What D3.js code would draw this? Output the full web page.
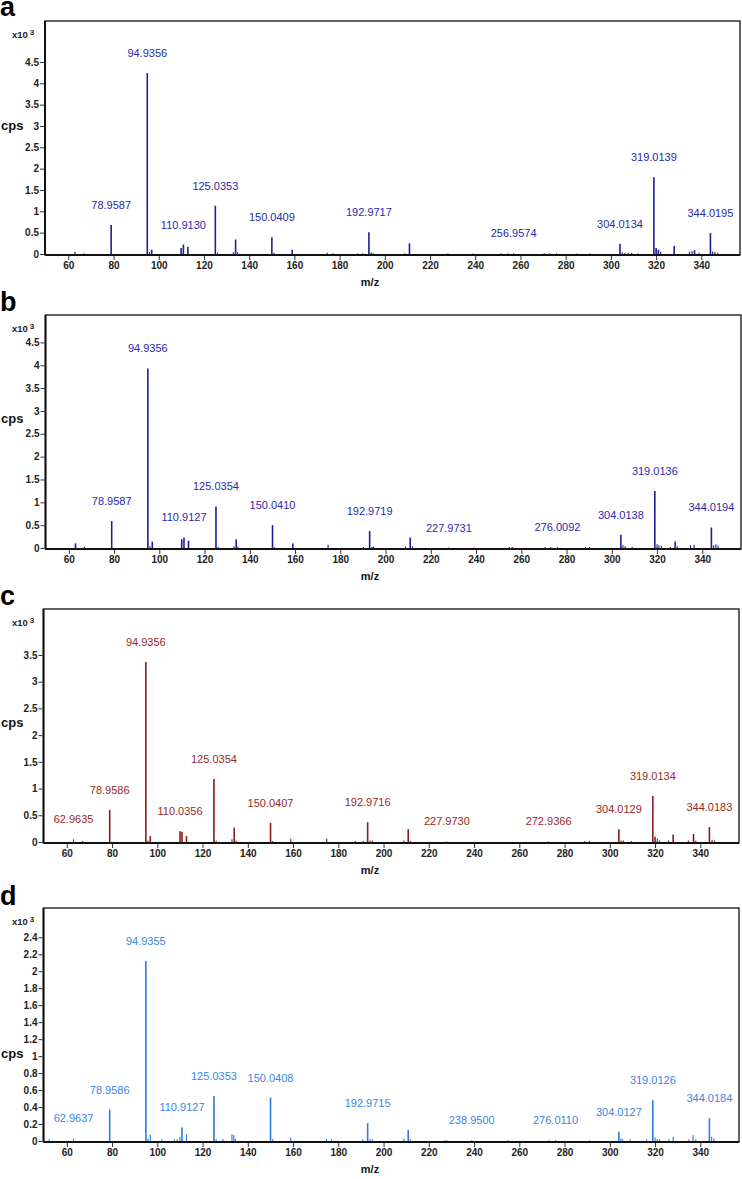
<!DOCTYPE html>
<html><head><meta charset="utf-8">
<script src="https://cdn.jsdelivr.net/npm/d3@7"></script>
<style>
body{margin:0;background:#fff;}
svg{display:block;font-family:"Liberation Sans",Arial,sans-serif;}
</style></head><body>
<svg id="chart" width="742" height="1179"></svg>
<script>
// ---------- data ----------
const panelLetters = ["a", "b", "c", "d"];
const xTicks = [60, 80, 100, 120, 140, 160, 180, 200, 220, 240, 260, 280, 300, 320, 340];
const yTicksA = [0, 0.5, 1, 1.5, 2, 2.5, 3, 3.5, 4, 4.5];
const yTicksB = [0, 0.5, 1, 1.5, 2, 2.5, 3, 3.5, 4, 4.5];
const yTicksC = [0, 0.5, 1, 1.5, 2, 2.5, 3, 3.5];
const yTicksD = [0, 0.2, 0.4, 0.6, 0.8, 1, 1.2, 1.4, 1.6, 1.8, 2, 2.2, 2.4];

// m/z and intensity (x10^3 cps)
const mzA  = [62.96,66.9,78.96,94.94,95.9,96.9,109.9,110.91,112.9,125.04,126.0,133.0,134.0,134.9,150.04,151.0,159.0,174.5,177.0,188.0,190.2,192.97,194.0,194.9,208.8,210.9,227.9,239.0,251.5,254.5,256.96,270.5,273.0,276.0,285.0,290.6,304.01,305.0,306.2,307.6,309.2,312.0,319.01,320.0,321.0,322.0,328.0,334.7,335.9,337.0,339.0,344.02,345.0,346.0,347.2];
const intA = [0.05,0.02,0.68,4.24,0.05,0.10,0.14,0.22,0.17,1.13,0.03,0.04,0.34,0.04,0.39,0.03,0.10,0.03,0.02,0.02,0.02,0.51,0.04,0.02,0.02,0.25,0.01,0.01,0.02,0.02,0.02,0.02,0.02,0.02,0.01,0.01,0.24,0.04,0.03,0.03,0.03,0.02,1.80,0.14,0.10,0.05,0.19,0.05,0.07,0.09,0.03,0.49,0.06,0.05,0.03];
const labelsA = ["78.9587","94.9356","110.9130","125.0353","150.0409","192.9717","256.9574","304.0134","319.0139","344.0195"];

const mzB  = [62.96,66.9,78.96,94.94,95.9,96.9,109.9,110.91,112.9,125.04,126.0,133.0,134.0,134.7,150.04,151.0,159.0,174.6,190.2,192.97,194.0,194.7,208.8,210.9,211.8,227.97,239.0,254.7,256.0,270.5,273.0,276.01,288.4,290.2,304.01,304.9,305.9,309.0,319.01,320.0,320.8,321.9,325.9,328.0,328.9,334.8,336.4,344.02,345.0,346.0,347.0];
const intB = [0.10,0.03,0.59,3.93,0.04,0.14,0.19,0.23,0.16,0.91,0.03,0.04,0.19,0.03,0.50,0.02,0.10,0.07,0.02,0.37,0.03,0.03,0.03,0.23,0.04,0.01,0.01,0.02,0.02,0.02,0.02,0.02,0.02,0.02,0.29,0.06,0.04,0.02,1.25,0.08,0.06,0.05,0.02,0.14,0.04,0.06,0.07,0.45,0.06,0.08,0.05];
const labelsB = ["78.9587","94.9356","110.9127","125.0354","150.0410","192.9719","227.9731","276.0092","304.0138","319.0136","344.0194"];

const mzC  = [62.96,67.0,78.96,94.94,95.9,96.9,110.04,110.9,112.9,125.04,126.0,133.0,134.0,134.8,150.04,151.0,159.0,174.9,187.5,191.0,192.97,194.0,195.0,209.0,210.9,211.8,227.97,272.94,289.0,291.0,304.01,305.0,306.0,309.5,319.01,320.0,321.0,322.0,326.0,328.0,334.7,337.0,338.0,344.02,345.2,346.3];
const intC = [0.05,0.02,0.60,3.37,0.03,0.11,0.20,0.19,0.11,1.18,0.03,0.05,0.27,0.03,0.36,0.02,0.06,0.06,0.02,0.02,0.37,0.03,0.03,0.03,0.24,0.02,0.01,0.01,0.02,0.02,0.24,0.03,0.03,0.02,0.86,0.10,0.06,0.03,0.03,0.14,0.03,0.15,0.03,0.28,0.04,0.03];
const labelsC = ["62.9635","78.9586","94.9356","110.0356","125.0354","150.0407","192.9716","227.9730","272.9366","304.0129","319.0134","344.0183"];

const mzD  = [52.2,62.96,78.96,94.94,95.9,96.9,102.0,107.5,108.8,110.0,110.91,112.9,125.04,126.0,129.0,133.0,133.8,134.5,150.04,151.0,159.0,174.8,177.0,190.8,192.97,194.0,195.0,209.0,210.9,211.8,227.0,228.0,238.95,255.0,273.0,276.01,291.0,304.01,304.9,305.7,309.0,316.3,319.01,320.0,321.0,322.0,326.2,328.0,335.0,336.8,338.0,344.02,345.0,346.0];
const intD = [0.02,0.03,0.37,2.12,0.03,0.075,0.02,0.02,0.02,0.05,0.16,0.075,0.53,0.02,0.02,0.08,0.07,0.03,0.51,0.02,0.04,0.025,0.02,0.02,0.21,0.02,0.02,0.03,0.13,0.02,0.01,0.01,0.01,0.01,0.01,0.01,0.01,0.11,0.03,0.02,0.02,0.02,0.48,0.04,0.02,0.02,0.02,0.05,0.02,0.07,0.02,0.27,0.05,0.03];
const labelsD = ["62.9637","78.9586","94.9355","110.9127","125.0353","150.0408","192.9715","238.9500","276.0110","304.0127","319.0126","344.0184"];

// ---------- layout / style ----------
const panels = [
  {letter: panelLetters[0], mz: mzA, ints: intA, labels: labelsA, yTicks: yTicksA, yMax: 5.46, top: 21,  left: 45,   right: 740, bar: "#1c1c9e", text: "#2a2ab0", cpsY: 104, letterY: 16},
  {letter: panelLetters[1], mz: mzB, ints: intB, labels: labelsB, yTicks: yTicksB, yMax: 5.10, top: 315, left: 45.5, right: 741, bar: "#1c1c9e", text: "#2a2ab0", cpsY: 103, letterY: 311},
  {letter: panelLetters[2], mz: mzC, ints: intC, labels: labelsC, yTicks: yTicksC, yMax: 4.36, top: 609, left: 43.5, right: 739, bar: "#8a1c1c", text: "#992a2a", cpsY: 113, letterY: 605},
  {letter: panelLetters[3], mz: mzD, ints: intD, labels: labelsD, yTicks: yTicksD, yMax: 2.745, top: 908, left: 43.5, right: 739, bar: "#2b7de0", text: "#3a86e6", cpsY: 145, letterY: 905}
];
const plotH = 234;

const svg = d3.select("#chart");

panels.forEach(p => {
  const bottom = p.top + plotH;
  const x = d3.scaleLinear().domain([49.7, 357.1]).range([p.left, p.right]);
  const y = d3.scaleLinear().domain([0, p.yMax]).range([bottom - 1, p.top]);
  const g = svg.append("g");

  // panel letter
  g.append("text").attr("x", 0).attr("y", p.letterY)
    .attr("font-size", 27).attr("font-weight", "bold").attr("fill", "#000").text(p.letter);

  // frame
  g.append("rect").attr("x", p.left).attr("y", p.top)
    .attr("width", p.right - p.left).attr("height", plotH)
    .attr("fill", "none").attr("stroke", "#111").attr("stroke-width", 1.3);

  // bars
  const peaks = p.mz.map((m, i) => ({mz: m, v: p.ints[i]}));
  g.append("g").selectAll("line").data(peaks).join("line")
    .attr("x1", d => x(d.mz)).attr("x2", d => x(d.mz))
    .attr("y1", y(0)).attr("y2", d => y(d.v))
    .attr("stroke", p.bar).attr("stroke-width", d => d.v > 0.08 ? 1.6 : 1.1);

  // thick left & bottom axis lines
  g.append("line").attr("x1", p.left).attr("x2", p.right).attr("y1", bottom).attr("y2", bottom)
    .attr("stroke", "#111").attr("stroke-width", 2.2);
  g.append("line").attr("x1", p.left).attr("x2", p.left).attr("y1", p.top).attr("y2", bottom)
    .attr("stroke", "#111").attr("stroke-width", 2);

  // y axis
  const ya = g.append("g").attr("transform", `translate(${p.left - 1},0)`)
    .call(d3.axisLeft(y).tickValues(p.yTicks).tickSize(4).tickPadding(1)
      .tickFormat(d => String(+d.toFixed(1))));
  ya.select(".domain").remove();
  ya.selectAll("text").attr("font-size", 10).attr("font-weight", "bold")
    .attr("font-family", "Liberation Sans, Arial, sans-serif").attr("fill", "#222");
  ya.selectAll("line").attr("stroke", "#333");

  // x axis
  const xa = g.append("g").attr("transform", `translate(0,${bottom + 1})`)
    .call(d3.axisBottom(x).tickValues(xTicks).tickSize(4).tickPadding(2));
  xa.select(".domain").remove();
  xa.selectAll("text").attr("font-size", 10).attr("font-weight", "bold")
    .attr("font-family", "Liberation Sans, Arial, sans-serif").attr("fill", "#222");
  xa.selectAll("line").attr("stroke", "#333");

  // x10^3
  const e = g.append("text").attr("x", 12).attr("y", p.top + 17)
    .attr("font-size", 9.5).attr("font-weight", "bold").attr("fill", "#222");
  e.append("tspan").text("x10");
  e.append("tspan").attr("dx", 2).attr("dy", -3).attr("font-size", 8).text("3");

  // cps
  g.append("text").attr("x", 1).attr("y", p.top + p.cpsY + 5)
    .attr("font-size", 13).attr("font-weight", "bold").attr("fill", "#111").text("cps");

  // m/z
  g.append("text").attr("x", 370).attr("y", bottom + 31).attr("text-anchor", "middle")
    .attr("font-size", 11).attr("font-weight", "bold").attr("fill", "#111").text("m/z");

  // peak labels
  const labs = p.labels.map(t => {
    const m = +t;
    const near = peaks.reduce((a, b) => Math.abs(b.mz - m) < Math.abs(a.mz - m) ? b : a);
    return {t, m, v: near.v};
  });
  g.append("g").selectAll("text").data(labs).join("text")
    .attr("x", d => x(d.m)).attr("y", d => y(d.v) - 16)
    .attr("text-anchor", "middle").attr("font-size", 11).attr("fill", p.text)
    .text(d => d.t);
});
</script>
</body></html>
